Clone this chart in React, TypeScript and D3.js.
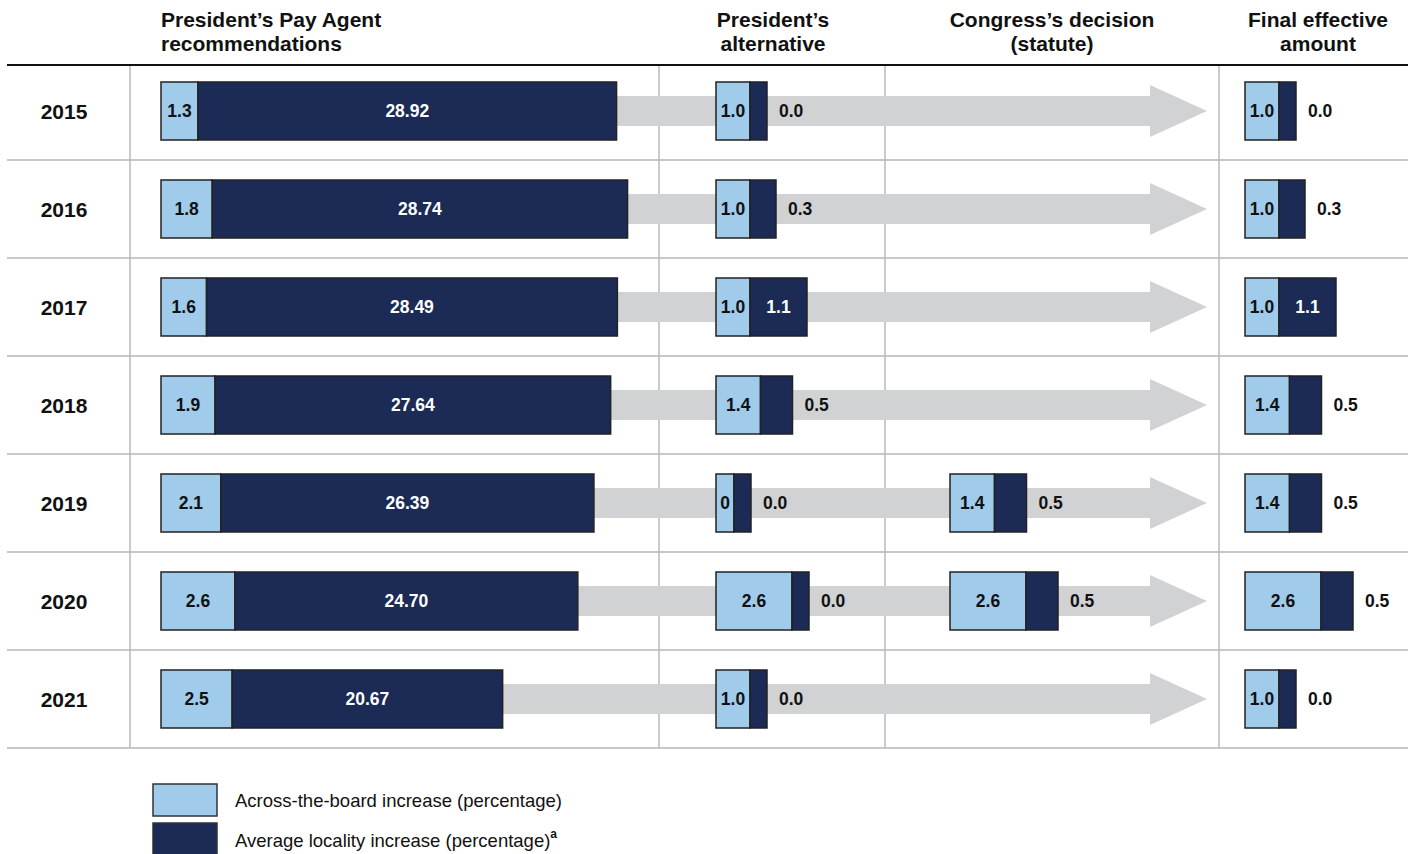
import React from "react";
import * as d3 from "d3";

const years = ["2015", "2016", "2017", "2018", "2019", "2020", "2021"];
const payAcross = [1.3, 1.8, 1.6, 1.9, 2.1, 2.6, 2.5];
const payLocality = [28.92, 28.74, 28.49, 27.64, 26.39, 24.7, 20.67];
const altAcross = [1.0, 1.0, 1.0, 1.4, 0, 2.6, 1.0];
const altLocality = [0.0, 0.3, 1.1, 0.5, 0.0, 0.0, 0.0];
const congressAcross: (number | null)[] = [null, null, null, null, 1.4, 2.6, null];
const congressLocality: (number | null)[] = [null, null, null, null, 0.5, 0.5, null];
const finalAcross = [1.0, 1.0, 1.0, 1.4, 1.4, 2.6, 1.0];
const finalLocality = [0.0, 0.3, 1.1, 0.5, 0.5, 0.5, 0.0];

const headers = [
  { lines: ["President\u2019s Pay Agent", "recommendations"], x: 161, anchor: "start" },
  { lines: ["President\u2019s", "alternative"], x: 773, anchor: "middle" },
  { lines: ["Congress\u2019s decision", "(statute)"], x: 1052, anchor: "middle" },
  { lines: ["Final effective", "amount"], x: 1318, anchor: "middle" },
];

const legendLabels = ["Across-the-board increase (percentage)", "Average locality increase (percentage)"];

const LIGHT = "#A0CBEB";
const DARK = "#1B2B55";
const ARROW = "#D1D2D4";
const FONT = "'Liberation Sans', Arial, Helvetica, sans-serif";

const W = 1411;
const H = 854;

const yBand = d3.scaleBand<string>().domain(years).range([62, 748]).paddingInner(0).paddingOuter(0);
const payAcrossX = d3.scaleLinear().domain([0, 2.6]).range([0, 74]);
const payLocalityX = d3.scaleLinear().domain([5.6, 29]).range([0, 420]);
const smallAcrossX = d3.scaleLinear().domain([0, 1, 2.6]).range([18, 34, 76]);
const smallLocalityX = d3.scaleLinear().domain([0, 0.5, 1.1]).range([17, 32, 57]);

const BAR_H = 58;
const LABEL_SIZE = 17.5;
const fmtA = (v: number) => (v === 0 ? "0" : d3.format(".1f")(v));
const fmtL1 = d3.format(".1f");
const fmtL2 = d3.format(".2f");

function Stack(props: {
  x: number;
  cy: number;
  wa: number;
  wl: number;
  la: string;
  ll: string;
}) {
  const { x, cy, wa, wl, la, ll } = props;
  const y = cy - BAR_H / 2;
  const inside = wl > 45;
  return (
    <g>
      <rect x={x} y={y} width={wa} height={BAR_H} fill={LIGHT} stroke="#222" strokeWidth={1.5} />
      <rect x={x + wa} y={y} width={wl} height={BAR_H} fill={DARK} stroke="#222" strokeWidth={1.5} />
      <text x={x + wa / 2} y={cy} dy="0.36em" textAnchor="middle" fontSize={LABEL_SIZE} fontWeight="bold" fill="#111">
        {la}
      </text>
      {inside ? (
        <text x={x + wa + wl / 2} y={cy} dy="0.36em" textAnchor="middle" fontSize={LABEL_SIZE} fontWeight="bold" fill="#fff">
          {ll}
        </text>
      ) : (
        <text x={x + wa + wl + 12} y={cy} dy="0.36em" textAnchor="start" fontSize={LABEL_SIZE} fontWeight="bold" fill="#111">
          {ll}
        </text>
      )}
    </g>
  );
}

export default function App() {
  const step = yBand.step();
  const arrowPath = (cy: number, x0: number) => {
    const p = d3.path();
    p.moveTo(x0, cy - 15);
    p.lineTo(1150, cy - 15);
    p.lineTo(1150, cy - 26);
    p.lineTo(1207, cy);
    p.lineTo(1150, cy + 26);
    p.lineTo(1150, cy + 15);
    p.lineTo(x0, cy + 15);
    p.closePath();
    return p.toString();
  };

  return (
    <div style={{ position: "absolute", left: 0, top: 0 }}>
      <svg width={W} height={H} style={{ display: "block", fontFamily: FONT }}>
        <rect width={W} height={H} fill="#fff" />
        {headers.map((h, i) => (
          <text key={i} x={h.x} textAnchor={h.anchor as any} fontSize={21} fontWeight="bold" fill="#111">
            <tspan x={h.x} y={27}>{h.lines[0]}</tspan>
            <tspan x={h.x} y={51}>{h.lines[1]}</tspan>
          </text>
        ))}
        {years.map((yr) => (
          <line key={yr} x1={7} x2={1408} y1={(yBand(yr) as number) + step} y2={(yBand(yr) as number) + step} stroke="#c8c8c8" strokeWidth={2} />
        ))}
        {[130, 659, 885, 1219].map((x) => (
          <line key={x} x1={x} x2={x} y1={65} y2={748} stroke="#b8b8b8" strokeWidth={1.5} />
        ))}
        <line x1={7} x2={1408} y1={65} y2={65} stroke="#111" strokeWidth={2} />

        {years.map((yr, i) => {
          const cy = (yBand(yr) as number) + step / 2;
          const pa = payAcrossX(payAcross[i]);
          const pl = payLocalityX(payLocality[i]);
          const ca = congressAcross[i];
          const cl = congressLocality[i];
          return (
            <g key={yr}>
              <path d={arrowPath(cy, 170)} fill={ARROW} />
              <text x={64} y={cy} dy="0.36em" textAnchor="middle" fontSize={21} fontWeight="bold" fill="#111">
                {yr}
              </text>
              <Stack x={161} cy={cy} wa={pa} wl={pl} la={fmtL1(payAcross[i])} ll={fmtL2(payLocality[i])} />
              <Stack
                x={716}
                cy={cy}
                wa={smallAcrossX(altAcross[i])}
                wl={smallLocalityX(altLocality[i])}
                la={fmtA(altAcross[i])}
                ll={fmtL1(altLocality[i])}
              />
              {ca != null && cl != null && (
                <Stack x={950} cy={cy} wa={smallAcrossX(ca)} wl={smallLocalityX(cl)} la={fmtA(ca)} ll={fmtL1(cl)} />
              )}
              <Stack
                x={1245}
                cy={cy}
                wa={smallAcrossX(finalAcross[i])}
                wl={smallLocalityX(finalLocality[i])}
                la={fmtA(finalAcross[i])}
                ll={fmtL1(finalLocality[i])}
              />
            </g>
          );
        })}

        <rect x={153} y={784} width={64} height={32} fill={LIGHT} stroke="#333" strokeWidth={1.5} />
        <rect x={153} y={823} width={64} height={34} fill={DARK} stroke="#333" strokeWidth={1.5} />
        <text x={235} y={807} fontSize={18.5} fill="#111">{legendLabels[0]}</text>
        <text x={235} y={847} fontSize={18.5} fill="#111">
          {legendLabels[1]}
          <tspan dy={-9} fontSize={12} fontWeight="bold">a</tspan>
        </text>
      </svg>
    </div>
  );
}
